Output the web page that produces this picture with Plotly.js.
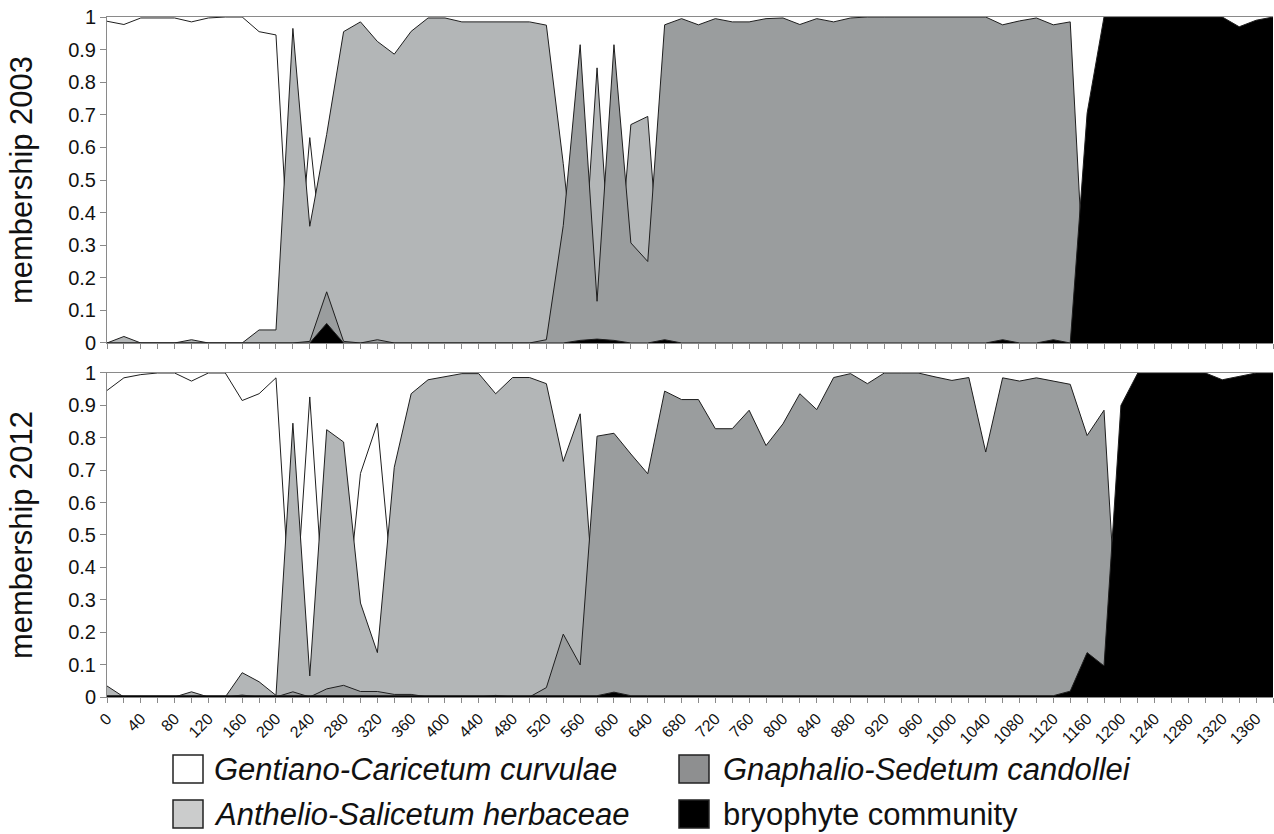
<!DOCTYPE html>
<html>
<head>
<meta charset="utf-8">
<script src="https://cdn.plot.ly/plotly-3.0.1.min.js"></script>
<style>html,body{margin:0;padding:0;background:#fff;}#chart{width:1274px;height:834px;}</style>
</head>
<body>
<div id="chart"></div>
<script>
// distance along transect (every 20 units)
const distance = [0,20,40,60,80,100,120,140,160,180,200,220,240,260,280,300,320,340,360,380,400,420,440,460,480,500,520,540,560,580,600,620,640,660,680,700,720,740,760,780,800,820,840,860,880,900,920,940,960,980,1000,1020,1040,1060,1080,1100,1120,1140,1160,1180,1200,1220,1240,1260,1280,1300,1320,1340,1360,1380];

const seriesNames = ["Gentiano-Caricetum curvulae","Anthelio-Salicetum herbaceae","Gnaphalio-Sedetum candollei","bryophyte community"];

// ---- 2003 memberships ----
const gentiano2003 = [0.987,0.977,0.997,0.997,0.997,0.985,0.997,1.0,1.0,0.955,0.945,0.03,0.63,0.14,0.04,0.015,0.065,0.11,0.045,0.003,
0.003,0.015,0.015,0.015,0.015,0.015,0.015,0.08,0.02,0.016,0.02,0.023,0.055,0.014,0.005,0.024,0.005,0.015,0.015,0.005,
0.003,0.023,0.005,0.015,0.003,0,0,0,0,0,0,0,0,0.014,0.012,0.003,0.014,0.015,0.295,0,
0,0,0,0,0,0,0,0.03,0.01,0];
const anthelio2003 = [0,0.02,0,0,0,0.01,0,0,0,0.04,0.04,0.965,0.358,0.64,0.955,0.985,0.925,0.886,0.956,0.997,
0.997,0.985,0.985,0.985,0.985,0.985,0.975,0.55,0.06,0.844,0.06,0.67,0.695,0.01,0,0,0,0,0,0,
0,0,0,0,0,0,0,0,0,0,0,0,0,0,0,0,0,0,0,0,
0,0,0,0,0,0,0,0,0,0];
const gnaphalio2003 = [0,0,0,0,0,0,0,0,0,0,0,0,0.005,0.157,0.005,0,0.01,0,0,0,
0,0,0,0,0,0,0.01,0.36,0.915,0.128,0.915,0.307,0.25,0.976,0.995,0.976,0.995,0.985,0.985,0.995,
0.997,0.977,0.995,0.985,0.997,1.0,1.0,1.0,1.0,1.0,1.0,1.0,1.0,0.976,0.988,0.997,0.976,0.985,0,0,
0,0,0,0,0,0,0,0,0,0];
const bryophyte2003 = [0,0,0,0,0,0,0,0,0,0,0,0,0,0.06,0,0,0,0,0,0,
0,0,0,0,0,0,0,0,0.008,0.012,0.008,0,0,0.01,0,0,0,0,0,0,
0,0,0,0,0,0,0,0,0,0,0,0,0,0.01,0,0,0.01,0,0.705,1.0,
1.0,1.0,1.0,1.0,1.0,1.0,1.0,0.97,0.99,1.0];

// ---- 2012 memberships ----
const gentiano2012 = [0.946,0.985,0.995,1.0,1.0,0.975,1.0,1.0,0.915,0.936,0.985,0.14,0.926,0.15,0.175,0.69,0.845,0.28,0.055,0.02,
0.01,0,0,0.06,0.014,0.014,0.004,0.075,0.025,0.02,0.17,0.24,0.3,0.05,0.08,0.08,0.17,0.17,0.11,0.22,
0.155,0.06,0.11,0.01,0,0.03,0,0,0,0.01,0.02,0.01,0.24,0.01,0.02,0.01,0.02,0.02,0.056,0.02,
0.1,0,0,0,0,0,0.02,0.01,0,0];
const anthelio2012 = [0.034,0,0,0,0,0.016,0,0,0.075,0.047,0.005,0.845,0.065,0.825,0.787,0.29,0.137,0.709,0.936,0.979,
0.988,0.998,0.998,0.936,0.986,0.986,0.967,0.727,0.874,0.17,0.01,0.01,0.01,0,0,0,0,0,0,0,
0,0,0,0,0,0,0,0,0,0,0,0,0,0,0,0,0,0,0,0,
0,0,0,0,0,0,0,0,0,0];
const gnaphalio2012 = [0,0,0,0,0,0,0,0,0.006,0,0,0.016,0,0.025,0.036,0.017,0.017,0.008,0.008,0,
0,0,0,0.005,0,0,0.029,0.194,0.099,0.805,0.814,0.75,0.689,0.944,0.918,0.918,0.828,0.828,0.885,0.776,
0.843,0.936,0.887,0.986,0.998,0.967,1.0,1.0,1.0,0.988,0.977,0.986,0.756,0.985,0.975,0.985,0.975,0.965,0.807,0.885,
0,0,0,0,0,0,0,0,0,0];
const bryophyte2012 = [0.004,0.004,0.004,0.004,0.004,0.004,0.004,0.004,0.004,0.004,0.004,0.004,0.004,0.004,0.004,0.004,0.004,0.004,0.004,0.004,
0.004,0.004,0.004,0.004,0.004,0.004,0.004,0.004,0.004,0.004,0.015,0.004,0.004,0.004,0.006,0.004,0.006,0.004,0.004,0.004,
0.004,0.004,0.004,0.004,0.004,0.004,0.004,0.004,0.004,0.004,0.004,0.004,0.004,0.004,0.004,0.004,0.004,0.018,0.137,0.096,
0.9,1.0,1.0,1.0,1.0,1.0,0.979,0.99,1.0,1.0];

const yTickVals = [0,0.1,0.2,0.3,0.4,0.5,0.6,0.7,0.8,0.9,1];
const yTickText = ["0","0.1","0.2","0.3","0.4","0.5","0.6","0.7","0.8","0.9","1"];

const fills = ["#ffffff","#b3b6b7","#9a9d9e","#000000"];
const legendFills = ["#ffffff","#cbcccc","#8e8f90","#000000"];
const FONT = "Liberation Sans, Arial, Helvetica, sans-serif";

function mk(y, i, xa, ya) {
  return {x: distance, y: y, type: "scatter", mode: "lines", fill: "tozeroy",
    fillcolor: fills[i], line: {color: "#1e1e1e", width: 1}, name: seriesNames[i],
    xaxis: xa, yaxis: ya, showlegend: false, hoverinfo: "skip"};
}

const data = [
  mk(gentiano2003, 0, "x2", "y2"), mk(anthelio2003, 1, "x2", "y2"),
  mk(gnaphalio2003, 2, "x2", "y2"), mk(bryophyte2003, 3, "x2", "y2"),
  mk(gentiano2012, 0, "x", "y"), mk(anthelio2012, 1, "x", "y"),
  mk(gnaphalio2012, 2, "x", "y"), mk(bryophyte2012, 3, "x", "y")
];

const axisGray = "#8a8a8a";
function xAx(labels, anchor) {
  return {domain: [0, 1], range: [0, 1380], anchor: anchor, tickmode: "linear", tick0: 0, dtick: 40,
    ticks: "outside", ticklen: 5, tickwidth: 1, tickcolor: axisGray, showticklabels: labels,
    tickangle: -45, tickfont: {family: FONT, size: 16, color: "#111"},
    minor: {dtick: 20, ticks: "outside", ticklen: 5, tickwidth: 1, tickcolor: axisGray},
    showline: true, linecolor: axisGray, linewidth: 1, mirror: true,
    showgrid: false, zeroline: false, fixedrange: true};
}
function yAx(dom, anchor, title) {
  return {domain: dom, range: [0, 1], anchor: anchor, tickmode: "array", tickvals: yTickVals, ticktext: yTickText,
    ticks: "outside", ticklen: 6, tickwidth: 1, tickcolor: axisGray,
    tickfont: {family: FONT, size: 20, color: "#111"},
    showline: true, linecolor: axisGray, linewidth: 1, showgrid: false, zeroline: false,
    title: {text: title, font: {family: FONT, size: 31, color: "#111"}, standoff: 26}, fixedrange: true};
}

// legend drawn as boxes + labels (paper coords: x 0..1 = 107..1273 px, y 0..1 = 697..17 px)
const px = v => (v - 107) / 1166;
const py = v => (697 - v) / 680;
const legendItems = [
  {idx: 0, bx: 173, ty: 769, tx: 212, italic: true},
  {idx: 2, bx: 679, ty: 769, tx: 721, italic: true},
  {idx: 1, bx: 173, ty: 814, tx: 212, italic: true},
  {idx: 3, bx: 679, ty: 814, tx: 721, italic: false}
];
const shapes = [], annotations = [];
legendItems.forEach(it => {
  shapes.push({type: "rect", xref: "paper", yref: "paper", x0: px(it.bx), x1: px(it.bx + 30),
    y0: py(it.ty - 14), y1: py(it.ty + 14), fillcolor: legendFills[it.idx], line: {color: "#222", width: 1.5}});
  annotations.push({xref: "paper", yref: "paper", x: px(it.tx), y: py(it.ty), xanchor: "left", yanchor: "middle",
    showarrow: false, text: it.italic ? "<i>" + seriesNames[it.idx] + "</i>" : seriesNames[it.idx],
    font: {family: FONT, size: 31, color: "#111"}});
});

const layout = {
  width: 1274, height: 834, margin: {l: 107, r: 1, t: 17, b: 137},
  paper_bgcolor: "#fff", plot_bgcolor: "#fff", showlegend: false,
  font: {family: FONT, color: "#111"},
  xaxis: xAx(true, "y"), yaxis: yAx([0, 0.4765], "x", "membership 2012"),
  xaxis2: xAx(false, "y2"), yaxis2: yAx([0.5206, 1], "x2", "membership 2003"),
  shapes: shapes, annotations: annotations
};

Plotly.newPlot("chart", data, layout, {staticPlot: true, displayModeBar: false});
</script>
</body>
</html>
